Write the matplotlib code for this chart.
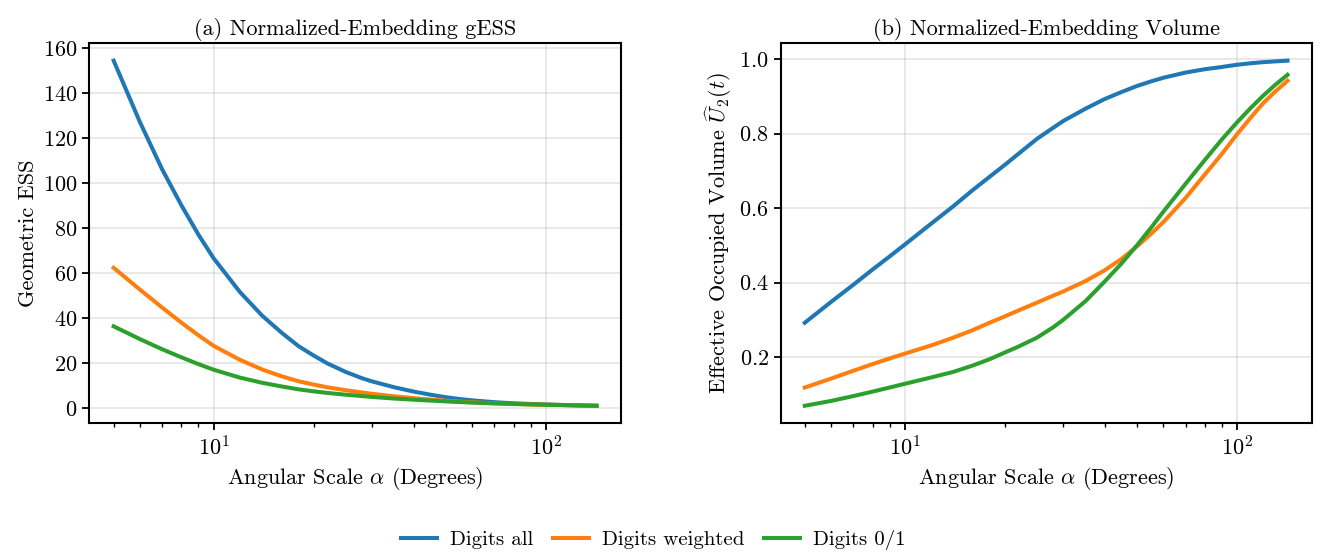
import matplotlib
matplotlib.use("Agg")
import matplotlib.pyplot as plt
from matplotlib.ticker import MultipleLocator

plt.rcParams['font.family'] = 'serif'
plt.rcParams['font.serif'] = ['cmr10']
plt.rcParams['mathtext.fontset'] = 'cm'
plt.rcParams['axes.formatter.use_mathtext'] = True
plt.rcParams['axes.unicode_minus'] = False
plt.rcParams['font.size'] = 16

# angular scale (degrees)
alpha = [5, 6, 7, 8, 9, 10, 12, 14, 16, 18, 20, 22, 25, 28, 30, 35, 40, 45,
         50, 55, 60, 70, 80, 90, 100, 110, 120, 130, 142]

# (a) geometric ESS
gess_all = [154.3, 127.0, 106.0, 90.0, 77.0, 66.5, 51.5, 41.0, 33.5, 27.5,
            23.3, 19.8, 16.0, 13.2, 11.8, 9.2, 7.3, 5.9, 4.8, 4.0,
            3.4, 2.6, 2.1, 1.8, 1.55, 1.4, 1.25, 1.12, 1.0]
gess_weighted = [62.3, 52.6, 44.6, 37.9, 32.3, 27.6, 21.4, 17.1, 14.1, 11.9,
                 10.4, 9.2, 7.9, 6.9, 6.3, 5.2, 4.4, 3.75, 3.25, 2.85,
                 2.55, 2.1, 1.8, 1.6, 1.45, 1.33, 1.22, 1.1, 1.0]
gess_01 = [36.3, 30.6, 26.1, 22.5, 19.5, 17.0, 13.5, 11.2, 9.6, 8.3,
           7.4, 6.7, 5.9, 5.3, 4.9, 4.2, 3.7, 3.3, 2.95, 2.65,
           2.4, 2.05, 1.8, 1.6, 1.45, 1.33, 1.22, 1.1, 1.0]

# (b) effective occupied volume
vol_all = [0.292, 0.348, 0.394, 0.435, 0.470, 0.502, 0.558, 0.605, 0.648, 0.684,
           0.716, 0.746, 0.786, 0.816, 0.834, 0.867, 0.893, 0.912, 0.928, 0.940,
           0.950, 0.964, 0.973, 0.979, 0.985, 0.989, 0.992, 0.994, 0.996]
vol_weighted = [0.118, 0.142, 0.163, 0.181, 0.196, 0.209, 0.231, 0.252, 0.272, 0.292,
                0.309, 0.325, 0.346, 0.365, 0.376, 0.404, 0.433, 0.464, 0.497, 0.530,
                0.562, 0.627, 0.690, 0.745, 0.798, 0.843, 0.882, 0.912, 0.942]
vol_01 = [0.069, 0.082, 0.095, 0.107, 0.118, 0.128, 0.145, 0.160, 0.177, 0.194,
          0.212, 0.228, 0.252, 0.280, 0.300, 0.350, 0.403, 0.452, 0.500, 0.546,
          0.590, 0.665, 0.729, 0.784, 0.830, 0.869, 0.902, 0.930, 0.958]

labels = ['Digits all', 'Digits weighted', 'Digits 0/1']
colors = ['#1f77b4', '#ff7f0e', '#2ca02c']

fig = plt.figure(figsize=(13.2, 5.55), dpi=100)
ax1 = fig.add_axes([0.0678, 0.2378, 0.4024, 0.684])
ax2 = fig.add_axes([0.5914, 0.2378, 0.4023, 0.684])

for ax, series in [(ax1, [gess_all, gess_weighted, gess_01]),
                   (ax2, [vol_all, vol_weighted, vol_01])]:
    for y, lab, c in zip(series, labels, colors):
        ax.plot(alpha, y, color=c, lw=2.9, label=lab)
    ax.set_xscale('log')
    ax.grid(True, which='major', color='#b0b0b0', alpha=0.35, lw=1.1)
    for s in ax.spines.values():
        s.set_linewidth(1.5)
    ax.tick_params(which='major', direction='out', length=5, width=1.3)
    ax.tick_params(which='minor', direction='out', length=3, width=1.0)
    ax.set_xlabel(r'Angular Scale $\alpha$ (Degrees)')

ax1.yaxis.set_major_locator(MultipleLocator(20))
ax2.yaxis.set_major_locator(MultipleLocator(0.2))

ax1.set_ylabel('Geometric ESS')
ax1.set_title('(a) Normalized-Embedding gESS', fontsize=16)
ax2.set_ylabel(r'Effective Occupied Volume $\widehat{U}_2(t)$')
ax2.set_title('(b) Normalized-Embedding Volume', fontsize=16)

handles, labs = ax1.get_legend_handles_labels()
fig.legend(handles, labs, loc='center', bbox_to_anchor=(0.495, 0.027), ncol=3,
           frameon=False, fontsize=15, handlelength=1.73, handletextpad=0.62,
           columnspacing=0.96)

fig.savefig('out.png', dpi=100)
